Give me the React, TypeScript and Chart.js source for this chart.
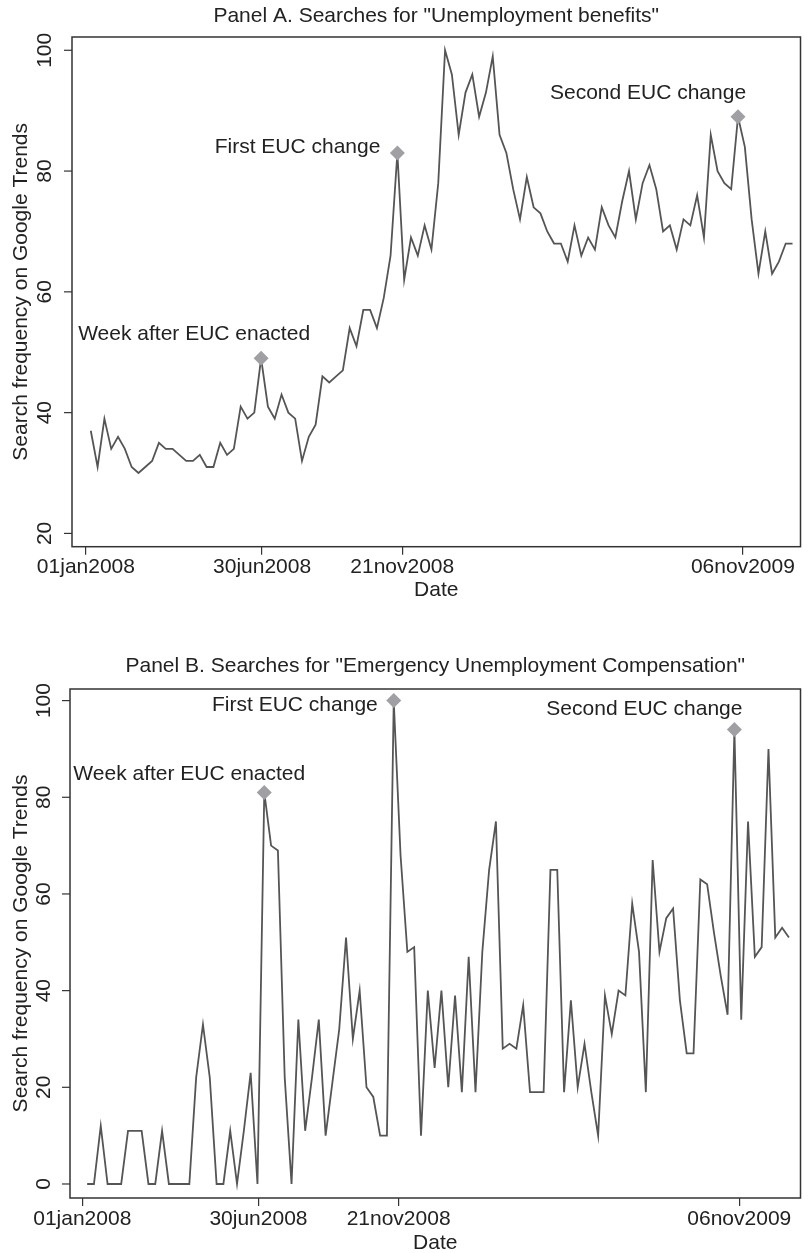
import React, { useEffect, useRef } from 'react';
import { Chart, registerables } from 'chart.js';

Chart.register(...registerables);

// ---------------- data ----------------
const ORIGIN_DATE = '2008-01-01';
const FIRST_WEEK = '2008-01-06';

const X_TICK_DATES = ['2008-01-01', '2008-06-30', '2008-11-21', '2009-11-06'];
const X_TICK_LABELS = ['01jan2008', '30jun2008', '21nov2008', '06nov2009'];

const Y_TICKS_A = [20, 40, 60, 80, 100];
const Y_TICKS_B = [0, 20, 40, 60, 80, 100];

const TITLE_A = 'Panel A. Searches for "Unemployment benefits"';
const TITLE_B = 'Panel B. Searches for "Emergency Unemployment Compensation"';
const Y_TITLE = 'Search frequency on Google Trends';
const X_TITLE = 'Date';

const SERIES_A = [
  37, 31, 39, 34, 36, 34, 31, 30, 31, 32,
  35, 34, 34, 33, 32, 32, 33, 31, 31, 35,
  33, 34, 41, 39, 40, 49, 41, 39, 43, 40,
  39, 32, 36, 38, 46, 45, 46, 47, 54, 51,
  57, 57, 54, 59, 66, 83, 62, 69, 66, 71,
  67, 78, 100, 96, 86, 93, 96, 89, 93, 99,
  86, 83, 77, 72, 79, 74, 73, 70, 68, 68,
  65, 71, 66, 69, 67, 74, 71, 69, 75, 80,
  72, 78, 81, 77, 70, 71, 67, 72, 71, 76,
  69, 86, 80, 78, 77, 89, 84, 72, 63, 70,
  63, 65, 68, 68,
];

const SERIES_B = [
  0, 0, 12, 0, 0, 0, 11, 11, 11, 0,
  0, 11, 0, 0, 0, 0, 22, 33, 22, 0,
  0, 11, 0, 11, 23, 0, 81, 70, 69, 22,
  0, 34, 11, 22, 34, 10, 21, 32, 51, 30,
  40, 20, 18, 10, 10, 100, 68, 48, 49, 10,
  40, 24, 40, 20, 39, 19, 47, 19, 48, 65,
  75, 28, 29, 28, 37, 19, 19, 19, 65, 65,
  19, 38, 20, 29, 19, 10, 39, 31, 40, 39,
  58, 48, 19, 67, 48, 55, 57, 38, 27, 27,
  63, 62, 52, 43, 35, 94, 34, 75, 47, 49,
  90, 51, 53, 51,
];

const ANNOT_TEXTS = ['Week after EUC enacted', 'First EUC change', 'Second EUC change'];
const ANNOT_WEEKS_A = [25, 45, 95];
const ANNOT_WEEKS_B = [26, 45, 95];

// ---------------- helpers ----------------
const dayOf = (s: string) =>
  Math.round((Date.parse(s + 'T00:00:00Z') - Date.parse(ORIGIN_DATE + 'T00:00:00Z')) / 86400000);
const weekDays = (n: number) => Array.from({ length: n }, (_, i) => dayOf(FIRST_WEEK) + 7 * i);
const X_TICK_DAYS = X_TICK_DATES.map(dayOf);

// ---------------- styles / layout ----------------
const FONT = '"Liberation Sans", Arial, Helvetica, sans-serif';
const FONT_SIZE = 21;
const TEXT_COLOR = '#222222';
const AXIS_COLOR = '#333333';
const LINE_COLOR = '#555555';
const MARKER_COLOR = '#a0a0a4';

type Panel = {
  title: string;
  series: number[];
  yTicks: number[];
  annotWeeks: number[];
  labelPos: { dx: number; dy: number; align: CanvasTextAlign }[];
  top: number;
  height: number;
  plotTop: number;
  plotBottom: number;
  plotLeft: number;
  xMin: number;
  xMax: number;
  yMin: number;
  yMax: number;
  titleY: number;
  dateY: number;
  yLabelX: number;
  yTitleX: number;
  tickPad: number;
};

const PANELS: Panel[] = [
  {
    title: TITLE_A,
    series: SERIES_A,
    yTicks: Y_TICKS_A,
    annotWeeks: ANNOT_WEEKS_A,
    labelPos: [
      { dx: -67, dy: -24, align: 'center' },
      { dx: -17, dy: -6, align: 'right' },
      { dx: -90, dy: -24, align: 'center' },
    ],
    top: 0,
    height: 620,
    plotTop: 37,
    plotBottom: 546.7,
    plotLeft: 72,
    xMin: -14.3,
    xMax: 734.2,
    yMin: 17.8,
    yMax: 102.2,
    titleY: 16,
    dateY: 590,
    yLabelX: 45,
    yTitleX: 21,
    tickPad: 0,
  },
  {
    title: TITLE_B,
    series: SERIES_B,
    yTicks: Y_TICKS_B,
    annotWeeks: ANNOT_WEEKS_B,
    labelPos: [
      { dx: -75, dy: -18, align: 'center' },
      { dx: -16, dy: 5, align: 'right' },
      { dx: -90, dy: -20, align: 'center' },
    ],
    top: 620,
    height: 633,
    plotTop: 69,
    plotBottom: 578,
    plotLeft: 70,
    xMin: -12.6,
    xMax: 737.9,
    yMin: -2.9,
    yMax: 102.4,
    titleY: 46,
    dateY: 623,
    yLabelX: 44,
    yTitleX: 21,
    tickPad: 1,
  },
];

const WIDTH = 808;

function PanelChart({ panel }: { panel: Panel }) {
  const ref = useRef<HTMLCanvasElement | null>(null);

  useEffect(() => {
    if (!ref.current) return;
    const days = weekDays(panel.series.length);
    const lineData = panel.series.map((v, i) => ({ x: days[i], y: v }));
    const markerData = panel.annotWeeks.map((w) => ({ x: days[w], y: panel.series[w] }));

    const overlay = {
      id: 'overlay',
      afterDraw(chart: any) {
        const { ctx, chartArea: ca, scales } = chart;
        const xs = scales.x;
        const ys = scales.y;
        ctx.save();
        // frame
        ctx.strokeStyle = AXIS_COLOR;
        ctx.lineWidth = 1.5;
        ctx.strokeRect(ca.left, ca.top, ca.right - ca.left, ca.bottom - ca.top);
        // y ticks and labels
        ctx.font = `${FONT_SIZE}px ${FONT}`;
        ctx.fillStyle = TEXT_COLOR;
        ctx.lineWidth = 1.2;
        for (const v of panel.yTicks) {
          const y = ys.getPixelForValue(v);
          ctx.beginPath();
          ctx.moveTo(ca.left - 8, y);
          ctx.lineTo(ca.left, y);
          ctx.stroke();
          ctx.save();
          ctx.translate(panel.yLabelX, y);
          ctx.rotate(-Math.PI / 2);
          ctx.textAlign = 'center';
          ctx.textBaseline = 'middle';
          ctx.fillText(String(v), 0, 0);
          ctx.restore();
        }
        // titles
        const cx = (ca.left + ca.right) / 2;
        ctx.textAlign = 'center';
        ctx.textBaseline = 'middle';
        ctx.fillText(panel.title, cx, panel.titleY);
        ctx.fillText(X_TITLE, cx, panel.dateY);
        ctx.save();
        ctx.translate(panel.yTitleX, (ca.top + ca.bottom) / 2);
        ctx.rotate(-Math.PI / 2);
        ctx.fillText(Y_TITLE, 0, 0);
        ctx.restore();
        // annotation labels
        panel.annotWeeks.forEach((w, i) => {
          const px = xs.getPixelForValue(days[w]);
          const py = ys.getPixelForValue(panel.series[w]);
          const o = panel.labelPos[i];
          ctx.textAlign = o.align;
          ctx.textBaseline = 'middle';
          ctx.fillText(ANNOT_TEXTS[i], px + o.dx, py + o.dy);
        });
        ctx.restore();
      },
    };

    const chart = new Chart(ref.current, {
      type: 'line',
      data: {
        datasets: [
          {
            type: 'line',
            data: markerData,
            showLine: false,
            pointStyle: 'rectRot',
            pointRadius: 7.5,
            pointBackgroundColor: MARKER_COLOR,
            pointBorderWidth: 0,
            borderWidth: 0,
            order: 0,
          } as any,
          {
            type: 'line',
            data: lineData,
            borderColor: LINE_COLOR,
            borderWidth: 1.8,
            pointRadius: 0,
            tension: 0,
            fill: false,
            order: 1,
          } as any,
        ],
      },
      options: {
        animation: false,
        responsive: false,
        devicePixelRatio: 1,
        events: [],
        layout: {
          padding: { left: 0, top: panel.plotTop, right: 1, bottom: 0 },
        },
        plugins: {
          legend: { display: false },
          tooltip: { enabled: false },
          title: { display: false },
        },
        scales: {
          x: {
            type: 'linear',
            min: panel.xMin,
            max: panel.xMax,
            afterBuildTicks: (scale: any) => {
              scale.ticks = X_TICK_DAYS.map((v) => ({ value: v }));
            },
            afterFit: (scale: any) => {
              scale.height = panel.height - panel.plotBottom;
            },
            border: { display: false },
            grid: {
              display: true,
              drawOnChartArea: false,
              drawTicks: true,
              tickLength: 8,
              color: AXIS_COLOR,
              lineWidth: 1.2,
            },
            ticks: {
              autoSkip: false,
              maxRotation: 0,
              minRotation: 0,
              padding: panel.tickPad,
              color: TEXT_COLOR,
              font: { family: FONT, size: FONT_SIZE },
              callback: (value: any) => {
                const idx = X_TICK_DAYS.indexOf(Number(value));
                return idx >= 0 ? X_TICK_LABELS[idx] : '';
              },
            },
          },
          y: {
            type: 'linear',
            min: panel.yMin,
            max: panel.yMax,
            afterFit: (scale: any) => {
              scale.width = panel.plotLeft;
            },
            border: { display: false },
            grid: { display: false },
            ticks: { display: false },
          },
        },
      } as any,
      plugins: [overlay],
    });

    return () => chart.destroy();
  }, [panel]);

  return (
    <canvas
      ref={ref}
      width={WIDTH}
      height={panel.height}
      style={{ position: 'absolute', left: 0, top: panel.top, width: WIDTH, height: panel.height }}
    />
  );
}

export default function App() {
  return (
    <div style={{ position: 'absolute', left: 0, top: 0, width: WIDTH, height: 1253, background: '#ffffff' }}>
      {PANELS.map((p, i) => (
        <PanelChart key={i} panel={p} />
      ))}
    </div>
  );
}
